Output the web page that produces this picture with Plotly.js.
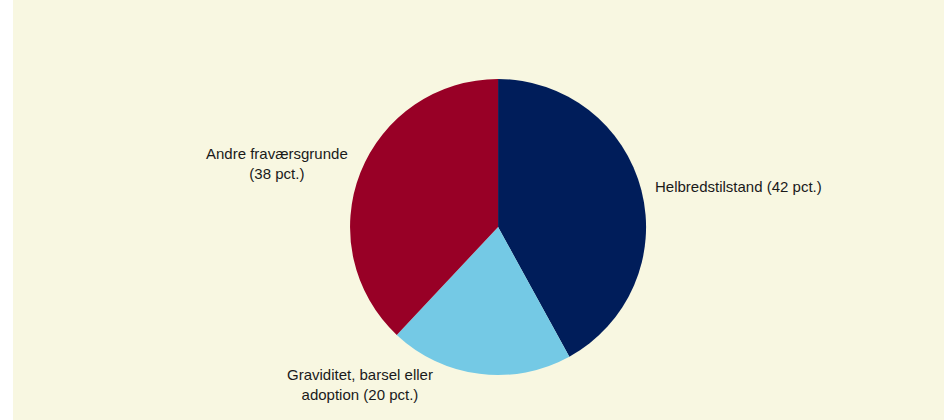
<!DOCTYPE html>
<html>
<head>
<meta charset="utf-8">
<script src="https://cdn.plot.ly/plotly-3.0.1.min.js"></script>
<style>
  html, body { margin: 0; padding: 0; background: #ffffff; }
  #chart { position: absolute; left: 13px; top: 0; width: 931px; height: 420px; }
</style>
</head>
<body>
<div id="chart"></div>
<script>
const categories = ["Helbredstilstand", "Graviditet, barsel eller adoption", "Andre fraværsgrunde"];
const values = [42, 20, 38];
const colors = ["#001d5a", "#74c9e5", "#980026"];
const labelTexts = [
  "Helbredstilstand (42 pct.)",
  "Graviditet, barsel eller<br>adoption (20 pct.)",
  "Andre fraværsgrunde<br>(38 pct.)"
];

const trace = {
  type: "pie",
  labels: categories,
  values: values,
  sort: false,
  direction: "clockwise",
  rotation: 0,
  textinfo: "none",
  hoverinfo: "label+percent",
  marker: { colors: colors, line: { width: 0 } },
  domain: { x: [0.362, 0.680], y: [0.1071, 0.8119] },
  showlegend: false
};

const annPos = [
  { x: 0.6875, y: 0.5548, xanchor: "left", align: "left" },
  { x: 0.3727, y: 0.0845, xanchor: "center", align: "center" },
  { x: 0.2836, y: 0.6107, xanchor: "center", align: "center" }
];

const annotations = labelTexts.map((t, i) => ({
  text: t,
  xref: "paper", yref: "paper",
  x: annPos[i].x, y: annPos[i].y,
  xanchor: annPos[i].xanchor, yanchor: "middle",
  align: annPos[i].align,
  showarrow: false,
  font: { family: "Liberation Sans, Arial, sans-serif", size: 15, color: "#1a1a1a" }
}));

const layout = {
  width: 931,
  height: 420,
  margin: { l: 0, r: 0, t: 0, b: 0 },
  paper_bgcolor: "#f8f7e1",
  plot_bgcolor: "#f8f7e1",
  font: { family: "Liberation Sans, Arial, sans-serif", size: 15, color: "#1a1a1a" },
  annotations: annotations
};

Plotly.newPlot("chart", [trace], layout, { displayModeBar: false, staticPlot: true });
</script>
</body>
</html>
